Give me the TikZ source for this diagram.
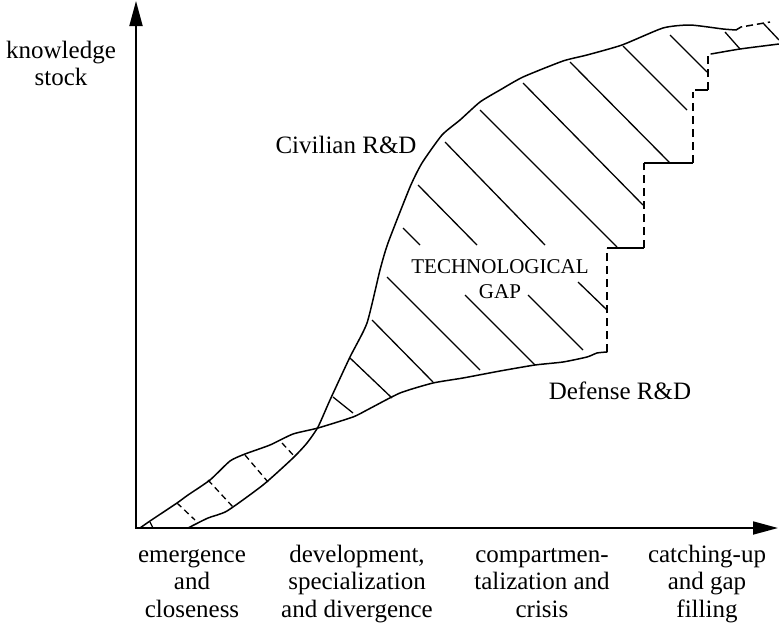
\documentclass[tikz,border=0pt]{standalone}
\usepackage{fontspec}
\setmainfont{Liberation Serif}
\usetikzlibrary{arrows.meta}
\begin{document}
\begin{tikzpicture}[x=1pt,y=-1pt,
  axis/.style={line width=1.8pt, {Triangle[length=25pt,width=13pt]}-{Triangle[length=25pt,width=13pt]}},
  curve/.style={line width=1.5pt, line join=round, line cap=round},
  hatch/.style={line width=1.3pt},
  dhatch/.style={line width=1.3pt, dash pattern=on 6pt off 4pt},
  stepdash/.style={line width=1.5pt, dash pattern=on 8pt off 5pt},
  stepline/.style={line width=1.5pt},
  lbl/.style={inner sep=0pt, font=\fontsize{25}{27.5}\selectfont, align=center},
  gaplbl/.style={inner sep=0pt, font=\fontsize{21}{25}\selectfont, align=center}
]
\useasboundingbox (0,0) rectangle (779,624);

% axes
\coordinate (O) at (136,528);
\coordinate (ytop) at (136,1);
\coordinate (xend) at (778,528);
\draw[axis] (ytop) -- (O) -- (xend);

% civilian R&D curve
\draw[curve] plot[smooth, tension=0.35] coordinates {(188,528) (208,518) (227,511) (263,485) (293,458) (307,443) (318,427) (330,400) (350,357) (367,323) (380,270) (388,243) (410,187) (422,163) (442,135) (460,120) (480,102) (500,90) (523,77) (563,61) (587,55) (622,45) (663,28) (690,25) (723,29) (736,30)};
\coordinate (c1) at (736,30);
\coordinate (c2) at (741,27);
\coordinate (c3) at (770,22);
\draw[curve, line cap=butt, dash pattern=on 7pt off 4pt] (c1) -- (c2) -- (c3);

% defense R&D curve
\draw[curve] plot[smooth, tension=0.35] coordinates {(140,528) (150,521) (177,503) (188,495) (210,480) (230,461) (245,454) (270,445) (293,434) (318,428) (353,417) (367,410) (400,393) (433,383) (463,378) (500,371) (535,365) (563,362) (587,357) (597,353) (607,352)};
\coordinate (s0) at (607,352);
\coordinate (s1) at (607,248);
\coordinate (s2) at (644,248);
\coordinate (s3) at (644,163);
\coordinate (s4) at (693,163);
\coordinate (s5) at (693,92);
\coordinate (s6) at (695,90);
\coordinate (s7) at (708,90);
\coordinate (s8) at (708,56);
\draw[stepdash] (s0) -- (s1);
\draw[stepline] (s1) -- (s2);
\draw[stepdash] (s2) -- (s3);
\draw[stepline] (s3) -- (s4);
\draw[stepdash] (s4) -- (s5);
\draw[stepline] (s6) -- (s7);
\draw[stepdash] (s7) -- (s8);
\draw[curve] plot[smooth, tension=0.35] coordinates {(711,54) (740,49) (779,44)};

% hatching of the technological gap
\foreach \a/\b/\c/\d in {333/397/353/413, 350/358/392/398, 372/320/433/382, 387/277/480/370,
  403/228/420/245, 418/185/477/245, 465/295/535/365, 445/142/545/245, 528/295/583/350,
  480/110/617/247, 578/282/607/310, 523/83/643/205, 570/62/670/163, 623/46/687/110,
  670/35/707/72, 725/32/740/49, 763/23/779/40}
  \draw[hatch] (\a,\b) -- (\c,\d);

% dashed hatching of the early closeness phase
\draw[hatch] (150,522) -- (153,528);
\foreach \a/\b/\c/\d in {177/503/195/520, 208/480/233/507, 245/455/268/482, 282/443/295/457}
  \draw[dhatch] (\a,\b) -- (\c,\d);

% labels
\node[lbl, anchor=north] (ks) at (61,38.75) {\strut knowledge\\stock};
\node[lbl, anchor=base] (civ) at (346,153) {Civilian R\&D};
\node[lbl, anchor=base] (def) at (620,399) {Defense R\&D};
\node[gaplbl, anchor=north] (gap) at (500,256) {\strut TECHNOLOGICAL\\GAP};
\node[lbl, anchor=north] (p1) at (192,542.75) {\strut emergence\\and\\closeness};
\node[lbl, anchor=north] (p2) at (357,542.75) {\strut development,\\specialization\\and divergence};
\node[lbl, anchor=north] (p3) at (542,542.75) {\strut compartmen-\\talization and\\crisis};
\node[lbl, anchor=north] (p4) at (707,542.75) {\strut catching-up\\and gap\\filling};
\end{tikzpicture}
\end{document}
